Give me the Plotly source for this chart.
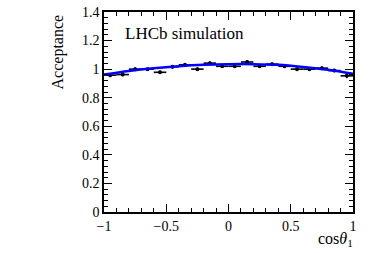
import plotly.graph_objects as go

# Data
bin_centers = [-0.95, -0.85, -0.75, -0.65, -0.55, -0.45, -0.35, -0.25, -0.15, -0.05,
               0.05, 0.15, 0.25, 0.35, 0.45, 0.55, 0.65, 0.75, 0.85, 0.95]
acceptance = [0.958, 0.962, 1.0, 1.0, 0.978, 1.016, 1.03, 1.0, 1.042, 1.02,
              1.02, 1.05, 1.02, 1.035, 1.02, 1.0, 1.0, 1.007, 0.99, 0.953]
acc_err = [0.014, 0.012, 0.012, 0.012, 0.012, 0.012, 0.012, 0.012, 0.012, 0.012,
           0.012, 0.012, 0.012, 0.012, 0.012, 0.012, 0.012, 0.012, 0.012, 0.016]
half_width = [0.05] * 20

fit_x = [-1.0, -0.8, -0.6, -0.4, -0.2, 0.0, 0.2, 0.4, 0.6, 0.8, 1.0]
fit_y = [0.962, 0.987, 1.006, 1.02, 1.03, 1.035, 1.035, 1.03, 1.015, 0.995, 0.967]

x_ticks = [-1, -0.5, 0, 0.5, 1]
y_ticks = [0, 0.2, 0.4, 0.6, 0.8, 1, 1.2, 1.4]

FONT = "Liberation Serif"

fig = go.Figure()
fig.add_trace(go.Scatter(
    x=bin_centers, y=acceptance, mode="markers",
    marker=dict(color="black", size=4),
    error_x=dict(type="data", array=half_width, color="black", thickness=1.6, width=0),
    error_y=dict(type="data", array=acc_err, color="black", thickness=1.6, width=0),
    showlegend=False, hoverinfo="skip",
))
fig.add_trace(go.Scatter(
    x=fit_x, y=fit_y, mode="lines", line=dict(color="#0000ff", width=2.5, shape="spline"),
    showlegend=False, hoverinfo="skip",
))

axis_common = dict(
    showgrid=False, zeroline=False, showline=True, linecolor="black", linewidth=1.5,
    mirror="allticks", ticks="inside", tickcolor="black", tickwidth=1, ticklen=8,
    tickfont=dict(family=FONT, size=14, color="black"), automargin=False,
    ticklabeloverflow="allow",
)
fig.update_xaxes(range=[-1, 1], tickvals=x_ticks, ticktext=["\u22121", "\u22120.5", "0", "0.5", "1"],
                 minor=dict(dtick=0.1, tick0=0, ticks="inside", ticklen=4, tickcolor="black"),
                 **axis_common)
fig.update_yaxes(range=[0, 1.4], tickvals=y_ticks, ticktext=["0", "0.2", "0.4", "0.6", "0.8", "1", "1.2", "1.4"],
                 minor=dict(dtick=0.04, tick0=0, ticks="inside", ticklen=4, tickcolor="black"),
                 **axis_common)

fig.update_layout(
    width=374, height=253,
    margin=dict(l=104, r=21, t=12, b=41, autoexpand=False),
    paper_bgcolor="white", plot_bgcolor="white",
    font=dict(family=FONT, color="black"),
    hovermode=False,
    annotations=[
        dict(text="LHCb simulation", xref="paper", yref="paper", x=0.075, y=0.95,
             xanchor="left", yanchor="top", showarrow=False,
             font=dict(family=FONT, size=17, color="black")),
        dict(text="Acceptance", xref="paper", yref="paper", x=-0.185, y=1.0,
             xanchor="center", yanchor="top", textangle=-90, showarrow=False,
             font=dict(family=FONT, size=16, color="black")),
        dict(text="cos<i>\u03b8</i><sub>1</sub>", xref="paper", yref="paper", x=1.01, y=-0.08,
             xanchor="right", yanchor="top", showarrow=False,
             font=dict(family=FONT, size=16, color="black")),
    ],
)

fig.write_html("out.html", config={"displayModeBar": False},
               post_script="document.body.style.margin='0';")
